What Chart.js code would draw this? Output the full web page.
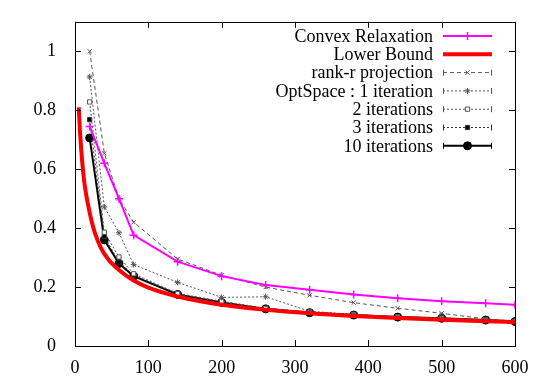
<!DOCTYPE html>
<html>
<head>
<meta charset="utf-8">
<script src="https://cdn.jsdelivr.net/npm/chart.js@4"></script>
<style>
  html, body { margin: 0; padding: 0; background: #fff; }
</style>
</head>
<body>
<canvas id="grafico" width="545" height="382"></canvas>
<script>
// valores
const tamanos = [20, 40, 60, 80, 140, 200, 260, 320, 380, 440, 500, 560, 600];
const convexRelaxation = [0.745, 0.62, 0.50, 0.376, 0.286, 0.237, 0.207, 0.191, 0.175, 0.162, 0.152, 0.145, 0.140];
const rankR = [1.0, 0.654, 0.50, 0.42, 0.295, 0.24, 0.20, 0.172, 0.147, 0.128, 0.111, 0.092, 0.084];
const optSpace1 = [0.913, 0.472, 0.384, 0.276, 0.216, 0.165, 0.167, 0.118, 0.107, 0.099, 0.095, 0.089, 0.084];
const optSpace2 = [0.828, 0.386, 0.302, 0.245, 0.178, 0.152, 0.128, 0.115, 0.107, 0.099, 0.095, 0.089, 0.084];
const optSpace3 = [0.768, 0.372, 0.285, 0.240, 0.176, 0.149, 0.127, 0.114, 0.106, 0.098, 0.094, 0.088, 0.083];
const optSpace10 = [0.706, 0.360, 0.280, 0.237, 0.175, 0.148, 0.126, 0.113, 0.105, 0.098, 0.094, 0.088, 0.083];

const tamanosCota = [5, 7, 10, 13, 17, 22, 27, 35, 45, 60, 80, 100, 140, 200, 260, 320, 380, 440, 500, 560, 600];
const cotaInferior = [0.81, 0.72, 0.62, 0.55, 0.49, 0.43, 0.385, 0.335, 0.295, 0.258, 0.222, 0.198, 0.168, 0.140, 0.123, 0.111, 0.102, 0.095, 0.089, 0.084, 0.081];

const ticksX = [0, 100, 200, 300, 400, 500, 600];
const ticksY = [0, 0.2, 0.4, 0.6, 0.8, 1];

const fuente = '"Liberation Serif", "DejaVu Serif", serif';

function puntos(xs, ys) {
  return xs.map((x, i) => ({ x: x, y: ys[i] }));
}

const series = [
  { label: 'Convex Relaxation', data: puntos(tamanos, convexRelaxation), borderColor: '#ff00ff', backgroundColor: '#ff00ff',
    borderWidth: 2, pointStyle: 'cross', pointRadius: 4, pointBorderWidth: 1.5, caps: false },
  { label: 'Lower Bound', data: puntos(tamanosCota, cotaInferior), borderColor: '#ff0000', backgroundColor: '#ff0000',
    borderWidth: 4, pointRadius: 0, cubicInterpolationMode: 'monotone', caps: false },
  { label: 'rank-r projection', data: puntos(tamanos, rankR), borderColor: '#555', backgroundColor: '#555',
    borderWidth: 1, borderDash: [4, 3], pointStyle: 'crossRot', pointRadius: 3, pointBorderWidth: 1, caps: true },
  { label: 'OptSpace : 1 iteration', data: puntos(tamanos, optSpace1), borderColor: '#555', backgroundColor: '#555',
    borderWidth: 1, borderDash: [2, 2], pointStyle: 'star', pointRadius: 3, pointBorderWidth: 1, caps: true },
  { label: '2 iterations', data: puntos(tamanos, optSpace2), borderColor: '#555', backgroundColor: '#fff',
    borderWidth: 1, borderDash: [2, 2], pointStyle: 'rect', pointRadius: 3, pointBorderWidth: 1, caps: true },
  { label: '3 iterations', data: puntos(tamanos, optSpace3), borderColor: '#333', backgroundColor: '#000',
    borderWidth: 1, borderDash: [2, 2], pointStyle: 'rect', pointRadius: 3, pointBorderWidth: 1, caps: true },
  { label: '10 iterations', data: puntos(tamanos, optSpace10), borderColor: '#000', backgroundColor: '#000',
    borderWidth: 2, pointStyle: 'circle', pointRadius: 4, pointBorderWidth: 1, caps: true }
];

// marco, marcas hacia dentro y leyenda al estilo gnuplot
const marcoGnuplot = {
  id: 'marcoGnuplot',
  afterDraw(chart) {
    const ctx = chart.ctx;
    const area = chart.chartArea;
    const sx = chart.scales.x;
    const sy = chart.scales.y;
    ctx.save();
    ctx.strokeStyle = '#000';
    ctx.lineWidth = 1;
    ctx.setLineDash([]);
    ctx.strokeRect(Math.round(area.left) + 0.5, Math.round(area.top) + 0.5,
      Math.round(area.right - area.left), Math.round(area.bottom - area.top));
    const largo = 6;
    ctx.beginPath();
    ticksX.forEach(v => {
      const px = Math.round(sx.getPixelForValue(v)) + 0.5;
      ctx.moveTo(px, area.bottom); ctx.lineTo(px, area.bottom - largo);
      ctx.moveTo(px, area.top); ctx.lineTo(px, area.top + largo);
    });
    ticksY.forEach(v => {
      const py = Math.round(sy.getPixelForValue(v)) + 0.5;
      ctx.moveTo(area.left, py); ctx.lineTo(area.left + largo, py);
      ctx.moveTo(area.right, py); ctx.lineTo(area.right - largo, py);
    });
    ctx.stroke();

    // leyenda
    ctx.font = '18px ' + fuente;
    ctx.textAlign = 'right';
    ctx.textBaseline = 'middle';
    const xTexto = 433, x0 = 443, x1 = 492;
    chart.data.datasets.forEach((ds, i) => {
      const y = 36 + i * 18.3;
      ctx.fillStyle = '#000';
      ctx.fillText(ds.label, xTexto, y + 1);
      ctx.strokeStyle = ds.borderColor;
      ctx.lineWidth = ds.borderWidth;
      ctx.setLineDash(ds.borderDash || []);
      ctx.beginPath();
      ctx.moveTo(x0, y); ctx.lineTo(x1, y);
      ctx.stroke();
      ctx.setLineDash([]);
      if (ds.caps) {
        ctx.lineWidth = 1;
        ctx.beginPath();
        ctx.moveTo(x0 + 0.5, y - 3); ctx.lineTo(x0 + 0.5, y + 3);
        ctx.moveTo(x1 - 0.5, y - 3); ctx.lineTo(x1 - 0.5, y + 3);
        ctx.stroke();
      }
      if (ds.pointRadius > 0) {
        ctx.fillStyle = ds.backgroundColor;
        ctx.strokeStyle = ds.borderColor;
        ctx.lineWidth = ds.pointBorderWidth;
        Chart.helpers.drawPoint(ctx, { pointStyle: ds.pointStyle, radius: ds.pointRadius, borderWidth: ds.pointBorderWidth, rotation: 0 }, (x0 + x1) / 2, y);
      }
    });
    ctx.restore();
  }
};

const grafico = new Chart(document.getElementById('grafico').getContext('2d'), {
  type: 'line',
  data: { datasets: series },
  options: {
    responsive: false,
    animation: false,
    layout: { padding: { top: 21, right: 30, left: 0, bottom: 0 } },
    plugins: { legend: { display: false }, tooltip: { enabled: false } },
    elements: { line: { tension: 0 } },
    scales: {
      x: {
        type: 'linear', min: 0, max: 600,
        grid: { display: false }, border: { display: false },
        afterBuildTicks: s => { s.ticks = ticksX.map(v => ({ value: v })); },
        afterFit: s => { s.height = 36; },
        ticks: { color: '#000', padding: 3, maxRotation: 0, font: { family: fuente, size: 18 } }
      },
      y: {
        type: 'linear', min: 0, max: 1.1,
        grid: { display: false }, border: { display: false },
        afterBuildTicks: s => { s.ticks = ticksY.map(v => ({ value: v })); },
        afterFit: s => { s.width = 75; },
        ticks: { color: '#000', padding: 11, font: { family: fuente, size: 18 },
          callback: v => String(+v.toFixed(1)) }
      }
    }
  },
  plugins: [marcoGnuplot]
});
</script>
</body>
</html>
